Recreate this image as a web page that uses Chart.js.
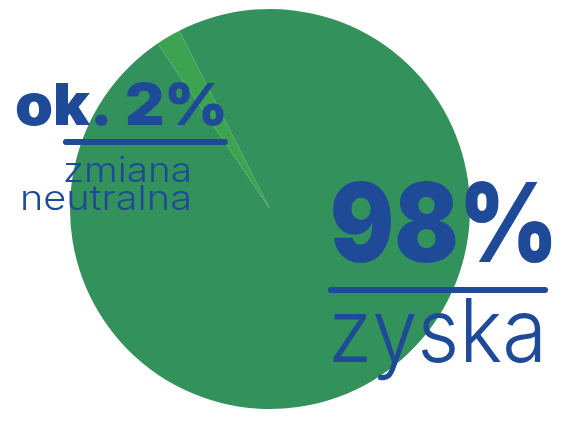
<!DOCTYPE html>
<html>
<head>
<meta charset="utf-8">
<script src="https://cdn.jsdelivr.net/npm/chart.js@4"></script>
<style>
  html, body { margin: 0; padding: 0; background: #ffffff; }
  #wrap { width: 566px; height: 426px; }
</style>
</head>
<body>
<div id="wrap"><canvas id="pieChart" width="566" height="426"></canvas></div>
<script>
// dane wykresu
const categories = ['zyska', 'zmiana neutralna'];
const shares = [98, 2];
const sliceColors = ['#33915c', '#3ca350'];
const bigLabels = ['98%', 'ok. 2%'];
const smallLabels = [['zyska'], ['zmiana', 'neutralna']];

const BLUE = '#1f4a98';

// tekst dopasowany do szerokości (skalowanie poziome)
function fitText(ctx, text, x, y, width, size, weight, align) {
    ctx.save();
    ctx.font = weight + ' ' + size + 'px Inter, "Open Sans", sans-serif';
    ctx.textBaseline = 'alphabetic';
    ctx.textAlign = 'left';
    const w = ctx.measureText(text).width;
    const sx = width / w;
    const left = align === 'right' ? x - width : x;
    ctx.translate(left, y);
    ctx.scale(sx, 1);
    ctx.fillStyle = BLUE;
    ctx.fillText(text, 0, 0);
    ctx.restore();
}

function rule(ctx, x1, x2, y, lw) {
    ctx.save();
    ctx.strokeStyle = BLUE;
    ctx.lineWidth = lw;
    ctx.lineCap = 'round';
    ctx.beginPath();
    ctx.moveTo(x1, y);
    ctx.lineTo(x2, y);
    ctx.stroke();
    ctx.restore();
}

const labelPlugin = {
    id: 'labelPlugin',
    afterDraw(chart) {
        const ctx = chart.ctx;
        // ok. 2% / zmiana neutralna
        fitText(ctx, bigLabels[1], 15, 125, 213, 58, 900, 'left');
        rule(ctx, 66, 225, 142, 6);
        fitText(ctx, smallLabels[1][0], 192, 182, 129, 34, 300, 'right');
        fitText(ctx, smallLabels[1][1], 192, 210, 172, 34, 300, 'right');
        // 98% / zyska
        fitText(ctx, bigLabels[0], 330, 262, 228, 110, 900, 'left');
        rule(ctx, 331, 545, 290, 6);
        fitText(ctx, smallLabels[0][0], 328, 362, 219, 88, 300, 'left');
    }
};

const ctx = document.getElementById('pieChart').getContext('2d');
new Chart(ctx, {
    type: 'pie',
    data: {
        labels: categories,
        datasets: [{
            data: shares,
            backgroundColor: sliceColors,
            borderWidth: 0
        }]
    },
    options: {
        responsive: false,
        animation: false,
        rotation: -27,
        layout: { padding: { left: 70, right: 96, top: 9, bottom: 17 } },
        plugins: {
            legend: { display: false },
            tooltip: { enabled: false }
        },
        events: []
    },
    plugins: [labelPlugin]
});
</script>
</body>
</html>
